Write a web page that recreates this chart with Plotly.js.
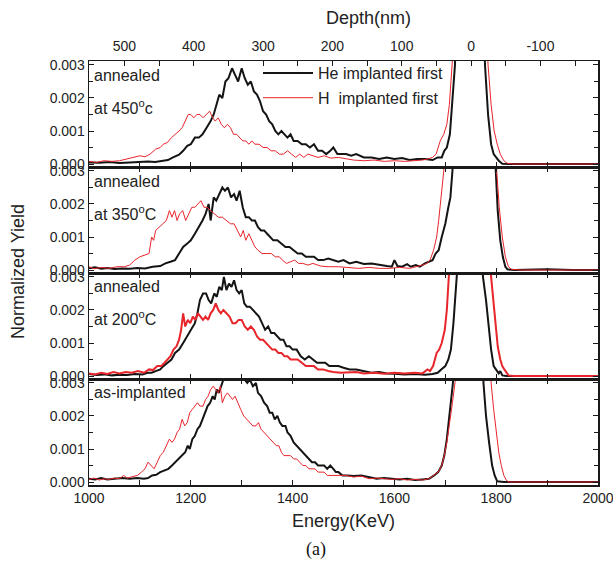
<!DOCTYPE html>
<html>
<head>
<meta charset="utf-8">
<script src="https://cdn.plot.ly/plotly-3.0.1.min.js"></script>
<style>html,body{margin:0;padding:0;background:#fff;}#chart{width:613px;height:569px;}</style>
</head>
<body>
<div id="chart"></div>
<script>
// ---------- data ----------
// annealed at 450 C
const E_450_He = [1000,1020,1040,1060,1080,1100,1116,1130,1145,1155,1165,1177,1185,1193,1200,1208,1216,1223,1231,1239,1245,1250,1256,1262,1268,1274,1281,1287,1293,1300,1306,1312,1318,1324,1330,1336,1342,1348,1354,1360,1366,1372,1378,1384,1390,1396,1402,1410,1418,1426,1434,1442,1450,1458,1466,1474,1480,1488,1496,1505,1515,1525,1540,1555,1570,1585,1600,1615,1630,1645,1660,1675,1685,1693,1698,1703,1709,1714,1719,1725,1740,1760,1772,1778,1784,1790,1795,1800,1805,1812,1830,1900,2000];
const Y_450_He = [0.00005,0.00004,0.00006,0.00003,0.00005,0.00006,0.00008,0.00006,0.0001,0.00012,0.0002,0.00028,0.0004,0.00055,0.0006,0.0008,0.0008,0.0009,0.0011,0.0013,0.0015,0.0018,0.0021,0.002,0.0025,0.0026,0.0029,0.0027,0.0025,0.0029,0.0026,0.0024,0.0025,0.0022,0.0021,0.0019,0.0016,0.0015,0.0013,0.0012,0.0010,0.0009,0.001,0.0009,0.0008,0.0009,0.0007,0.0007,0.0006,0.0006,0.0005,0.0006,0.0004,0.0004,0.0003,0.0004,0.0005,0.0003,0.0003,0.0003,0.00025,0.0003,0.0002,0.0002,0.00015,0.0002,0.00015,0.00018,0.00012,0.00015,0.00015,0.00012,0.0002,0.0002,0.0004,0.0005,0.0009,0.002,0.003,0.006,0.009,0.009,0.006,0.003,0.0015,0.0006,0.0003,0.0002,0.0001,0.00001,0,0,0];
const E_450_H = [1000,1015,1030,1045,1060,1075,1090,1100,1110,1120,1131,1140,1146,1154,1162,1170,1177,1183,1189,1195,1200,1206,1212,1218,1224,1231,1237,1243,1248,1254,1260,1266,1272,1278,1284,1290,1296,1302,1308,1314,1320,1326,1334,1342,1350,1358,1366,1374,1382,1390,1398,1406,1414,1422,1430,1440,1450,1462,1475,1490,1505,1520,1540,1560,1580,1600,1620,1640,1655,1665,1675,1682,1690,1697,1703,1708,1712,1718,1740,1770,1780,1784,1790,1796,1802,1808,1815,1822,1835,1900,2000];
const Y_450_H = [0.00008,0.00005,0.0001,0.00008,0.0001,0.00015,0.0002,0.00025,0.00022,0.0003,0.00045,0.0005,0.0006,0.00065,0.0008,0.0009,0.001,0.0011,0.0013,0.0015,0.0015,0.0014,0.0015,0.0015,0.0014,0.0015,0.0016,0.0014,0.0013,0.0014,0.0012,0.0011,0.0012,0.0011,0.0009,0.0009,0.0008,0.0007,0.0007,0.0006,0.0007,0.0006,0.0006,0.0005,0.0005,0.0004,0.0004,0.0003,0.0003,0.0004,0.0003,0.0002,0.0003,0.0002,0.0003,0.00025,0.0002,0.00025,0.00018,0.0002,0.00015,0.00012,0.0001,0.00012,0.00008,0.0001,0.00008,0.0001,0.00012,0.00015,0.0002,0.0003,0.0007,0.0009,0.0012,0.0018,0.003,0.006,0.009,0.009,0.005,0.003,0.0018,0.001,0.0006,0.0003,0.0001,0.00002,0,0,0];
// annealed at 350 C
const E_350_He = [1000,1012,1024,1036,1050,1065,1080,1095,1110,1125,1140,1150,1160,1169,1177,1185,1193,1200,1208,1216,1223,1229,1235,1239,1245,1250,1256,1262,1267,1273,1279,1285,1290,1296,1302,1308,1314,1320,1326,1332,1338,1344,1350,1356,1362,1370,1378,1386,1394,1402,1410,1418,1426,1434,1442,1450,1460,1470,1480,1490,1500,1512,1525,1540,1555,1570,1585,1595,1600,1606,1615,1625,1632,1642,1650,1660,1668,1675,1681,1687,1693,1700,1706,1710,1714,1720,1740,1780,1795,1798,1803,1808,1813,1818,1822,1835,1900,1950,2000];
const Y_350_He = [0.00005,0.00008,0.00004,0.00006,0.00003,0.00005,0.00004,0.00006,0.00005,0.0001,0.00012,0.0002,0.00025,0.0003,0.0005,0.0007,0.0008,0.0009,0.0011,0.0013,0.0015,0.0017,0.002,0.0015,0.0022,0.0021,0.0023,0.0025,0.0024,0.0025,0.0022,0.0023,0.0021,0.0024,0.0019,0.0016,0.0016,0.0015,0.0015,0.0013,0.0012,0.0012,0.0011,0.001,0.0009,0.0009,0.0008,0.0007,0.0007,0.0006,0.0005,0.0005,0.0004,0.0004,0.0004,0.0003,0.0003,0.00035,0.0003,0.00025,0.0003,0.0002,0.00025,0.00018,0.0002,0.00015,0.00012,0.0001,0.0003,0.00012,0.0001,0.00018,0.0001,0.00015,0.0001,0.0002,0.00025,0.0003,0.0005,0.0006,0.001,0.0014,0.0019,0.0022,0.003,0.006,0.009,0.009,0.004,0.003,0.0018,0.0009,0.0004,0.0001,0.00002,0,0.00002,0,0];
const E_350_H = [1000,1010,1025,1040,1055,1070,1080,1090,1100,1110,1118,1123,1127,1131,1138,1146,1152,1158,1163,1168,1173,1178,1184,1190,1196,1202,1208,1214,1220,1226,1232,1239,1246,1254,1262,1270,1278,1285,1292,1298,1303,1308,1314,1320,1326,1332,1340,1350,1358,1366,1374,1380,1388,1396,1404,1412,1420,1430,1440,1455,1470,1490,1510,1530,1550,1570,1590,1610,1630,1645,1655,1664,1670,1677,1683,1687,1692,1697,1703,1720,1785,1797,1801,1806,1812,1818,1824,1830,1850,2000];
const Y_350_H = [0.0001,0.00004,0.00008,0.00005,0.0001,0.0001,0.00015,0.0003,0.0004,0.00045,0.0005,0.001,0.0009,0.0012,0.0013,0.0014,0.0015,0.0018,0.0016,0.0018,0.0015,0.0017,0.0018,0.0015,0.0017,0.0019,0.0019,0.002,0.0021,0.0019,0.0019,0.0018,0.0017,0.0016,0.0016,0.0015,0.0014,0.0014,0.0012,0.001,0.0012,0.0009,0.0011,0.0009,0.0007,0.0006,0.0005,0.0005,0.0005,0.0004,0.0004,0.0003,0.0002,0.00025,0.0003,0.0002,0.0002,0.00015,0.0002,0.00012,0.0001,0.0001,0.00008,0.00005,0.00008,0.00005,0.00005,0.00008,0.00005,0.0001,0.00015,0.0002,0.0003,0.0006,0.001,0.0015,0.0022,0.003,0.006,0.009,0.009,0.0045,0.003,0.0019,0.001,0.0004,0.0001,0.00002,0,0];
// annealed at 200 C
const E_200_He = [1000,1015,1030,1045,1060,1075,1090,1105,1115,1123,1131,1140,1146,1154,1162,1169,1177,1185,1193,1200,1208,1213,1218,1224,1230,1235,1240,1246,1251,1256,1261,1265,1270,1275,1280,1285,1290,1295,1300,1305,1310,1316,1322,1328,1334,1340,1346,1352,1358,1364,1370,1376,1382,1388,1394,1400,1408,1416,1424,1432,1440,1448,1456,1464,1472,1480,1490,1500,1512,1525,1540,1555,1570,1585,1600,1620,1640,1660,1675,1685,1692,1700,1706,1711,1716,1720,1723,1730,1750,1765,1770,1774,1780,1785,1790,1795,1800,1805,1808,1812,1820,2000];
const Y_200_He = [0.00006,0.00003,0.00005,0.00002,0.00004,0.00003,0.00006,0.00005,0.0001,0.0001,0.00015,0.0002,0.0003,0.0004,0.0005,0.0007,0.0008,0.001,0.0012,0.0014,0.0016,0.0019,0.0023,0.0025,0.0025,0.0023,0.0022,0.0025,0.0024,0.0027,0.0026,0.003,0.0026,0.0028,0.0027,0.0029,0.0026,0.0025,0.0026,0.0022,0.0021,0.0021,0.002,0.0019,0.0018,0.0016,0.0014,0.0015,0.0013,0.0013,0.0012,0.0011,0.0011,0.0009,0.0009,0.0008,0.0008,0.0006,0.0005,0.0006,0.0005,0.0004,0.0004,0.0004,0.0003,0.0003,0.0003,0.00025,0.0002,0.0002,0.00015,0.0001,0.00012,0.00008,0.00007,0.00005,0.00006,0.00004,0.00006,0.0001,0.0002,0.0003,0.0005,0.0008,0.0016,0.0025,0.003,0.006,0.009,0.007,0.0045,0.003,0.0023,0.0015,0.0008,0.0003,0.0002,0.00008,0.00015,0.00002,0,0];
const E_200_H = [1000,1012,1024,1036,1048,1060,1072,1084,1096,1108,1118,1126,1134,1142,1148,1154,1160,1166,1172,1177,1181,1185,1189,1194,1199,1204,1209,1214,1219,1224,1229,1234,1239,1244,1249,1254,1259,1264,1270,1276,1282,1288,1294,1300,1306,1312,1318,1324,1330,1336,1342,1348,1354,1360,1366,1372,1378,1384,1390,1396,1402,1410,1418,1426,1434,1442,1450,1460,1470,1480,1495,1510,1525,1540,1560,1580,1600,1620,1640,1655,1665,1670,1676,1683,1688,1693,1699,1703,1707,1712,1730,1780,1786,1790,1795,1798,1803,1808,1812,1816,1820,1824,1835,2000];
const Y_200_H = [0.00008,0.00005,0.0001,0.00006,0.00012,0.00008,0.00012,0.0001,0.00015,0.0001,0.0002,0.00018,0.0003,0.0003,0.0004,0.0005,0.0006,0.0008,0.0009,0.0011,0.0014,0.0019,0.0015,0.0017,0.0016,0.0018,0.0017,0.0019,0.0018,0.0017,0.0018,0.0017,0.0019,0.002,0.0022,0.002,0.0019,0.002,0.0019,0.0018,0.0016,0.0016,0.0017,0.0017,0.0015,0.0014,0.0015,0.0014,0.0012,0.0011,0.0011,0.001,0.0009,0.0008,0.0008,0.0007,0.0007,0.0006,0.0006,0.0005,0.0005,0.0005,0.0004,0.0003,0.0003,0.0003,0.0002,0.0002,0.00015,0.00012,0.0001,0.0001,0.00012,0.00008,0.0001,0.00007,0.0001,0.00008,0.0001,0.00008,0.0002,0.00015,0.0003,0.0007,0.0008,0.001,0.0014,0.002,0.003,0.006,0.009,0.009,0.0045,0.003,0.0022,0.0015,0.0009,0.0005,0.0003,0.0002,0.0001,0.00002,0,0];
// as-implanted
const E_as_He = [1000,1012,1024,1036,1050,1065,1080,1095,1108,1116,1124,1132,1140,1148,1156,1163,1170,1177,1183,1189,1194,1198,1203,1208,1213,1218,1223,1228,1233,1238,1243,1247,1251,1255,1259,1264,1270,1280,1290,1300,1306,1311,1316,1322,1328,1332,1338,1344,1350,1355,1360,1365,1370,1375,1380,1386,1390,1396,1402,1408,1414,1420,1426,1432,1438,1444,1450,1456,1462,1468,1474,1480,1485,1490,1498,1508,1520,1535,1550,1565,1580,1595,1610,1625,1640,1655,1668,1678,1686,1693,1698,1703,1708,1712,1715,1720,1745,1765,1772,1775,1780,1786,1792,1797,1802,1815,2000];
const Y_as_He = [0.0001,0.00008,0.00012,0.00008,0.0001,0.00012,0.0001,0.00012,0.0001,0.00012,0.0002,0.00022,0.0003,0.00035,0.0004,0.0005,0.0006,0.0007,0.0008,0.0009,0.0011,0.001,0.0013,0.0014,0.0016,0.0017,0.0019,0.0021,0.0023,0.0024,0.0026,0.0025,0.0028,0.0027,0.0029,0.0031,0.0033,0.0034,0.0034,0.0033,0.0031,0.003,0.0031,0.0029,0.003,0.0027,0.0026,0.0024,0.0023,0.0021,0.0021,0.0019,0.002,0.0018,0.0017,0.0017,0.0015,0.0014,0.0012,0.0011,0.001,0.0009,0.0008,0.0007,0.0006,0.0006,0.0005,0.0005,0.0005,0.0004,0.0005,0.0004,0.0003,0.0003,0.0002,0.0002,0.00018,0.0002,0.00015,0.0001,0.00012,0.0001,0.00008,0.0001,0.00006,0.00008,0.0001,0.0002,0.0003,0.0005,0.0008,0.0013,0.002,0.0026,0.003,0.006,0.009,0.008,0.005,0.003,0.002,0.0012,0.0005,0.0002,0.00002,0,0];
const E_as_H = [1000,1010,1020,1030,1040,1050,1060,1068,1075,1085,1095,1103,1110,1116,1122,1128,1134,1140,1146,1152,1158,1163,1168,1173,1178,1183,1188,1193,1198,1203,1208,1213,1218,1224,1229,1234,1239,1244,1249,1254,1258,1262,1267,1272,1277,1282,1287,1292,1298,1304,1310,1316,1322,1328,1333,1338,1344,1350,1356,1362,1368,1373,1378,1383,1390,1396,1402,1408,1414,1420,1426,1432,1438,1444,1450,1456,1462,1468,1475,1485,1495,1505,1520,1535,1550,1565,1580,1595,1610,1625,1640,1655,1668,1678,1686,1693,1698,1703,1709,1714,1719,1725,1750,1780,1786,1790,1795,1800,1805,1810,1815,1820,1825,2000];
const Y_as_H = [0.00008,0.00012,0.00006,0.0001,0.00008,0.00012,0.0001,0.0002,0.00012,0.00015,0.0002,0.0003,0.0004,0.0006,0.0005,0.0004,0.0006,0.0008,0.0009,0.0011,0.0013,0.0012,0.0013,0.0015,0.0016,0.0019,0.0017,0.0018,0.0021,0.0022,0.0023,0.0024,0.0023,0.0023,0.0025,0.0026,0.0028,0.0029,0.0028,0.0027,0.0029,0.0024,0.0026,0.0027,0.0026,0.0025,0.0026,0.0024,0.0022,0.002,0.0019,0.0018,0.0017,0.0017,0.0018,0.0016,0.0015,0.0014,0.0013,0.0012,0.0011,0.0011,0.0009,0.0008,0.0008,0.0008,0.0007,0.0007,0.0006,0.0005,0.0005,0.0004,0.0004,0.0004,0.0003,0.0003,0.0003,0.0002,0.0002,0.0002,0.00018,0.0002,0.00015,0.00018,0.0001,0.00012,0.0001,0.00008,0.0001,0.00006,0.00008,0.00006,0.0001,0.0002,0.0003,0.0005,0.0008,0.0012,0.0018,0.0024,0.003,0.006,0.009,0.009,0.005,0.003,0.0022,0.0015,0.0009,0.0005,0.0002,0.00005,0,0];

const panelLabels = ["annealed", "at 450<sup>o</sup>c", "annealed", "at 350<sup>o</sup>C", "annealed", "at 200<sup>o</sup>C", "as-implanted"];
const seriesNames = ["He implanted first", "H  implanted first"];
const energyTicks = [1000, 1200, 1400, 1600, 1800, 2000];
const depthTicks = [500, 400, 300, 200, 100, 0, -100];
const depthTickText = ["500", "400", "300", "200", "100", "0", "-100"];

// ---------- styling ----------
const BLACK = '#141414';
const RED = '#e8252b';
const FONT = 'Liberation Sans, Arial, Helvetica, sans-serif';
const TXT = '#222';

function tr(x, y, ax, color, width, name, show) {
  return {x: x, y: y, xaxis: ax[0], yaxis: ax[1], type: 'scatter', mode: 'lines',
    line: {color: color, width: width}, name: name, showlegend: show,
    legendgroup: name, hoverinfo: 'skip'};
}

const data = [
  tr(E_450_He, Y_450_He, ['x4','y4'], BLACK, 2, seriesNames[0], true),
  tr(E_450_H,  Y_450_H,  ['x4','y4'], RED, 1, seriesNames[1], true),
  tr(E_350_He, Y_350_He, ['x3','y3'], BLACK, 2, seriesNames[0], false),
  tr(E_350_H,  Y_350_H,  ['x3','y3'], RED, 1, seriesNames[1], false),
  tr(E_200_He, Y_200_He, ['x2','y2'], BLACK, 2, seriesNames[0], false),
  tr(E_200_H,  Y_200_H,  ['x2','y2'], RED, 2, seriesNames[1], false),
  tr(E_as_He,  Y_as_He,  ['x','y'],   BLACK, 2, seriesNames[0], false),
  tr(E_as_H,   Y_as_H,   ['x','y'],   RED, 1, seriesNames[1], false),
  {x: [], y: [], xaxis: 'x5', yaxis: 'y4', type: 'scatter', mode: 'lines', showlegend: false, hoverinfo: 'skip'}
];

const yRange = [-0.00009, 0.00312];
function xAx(anchor, labels, mirror) {
  return {anchor: anchor, range: [1000, 2000], showgrid: false, zeroline: false,
    showline: true, linecolor: '#1a1a1a', linewidth: 1.5, mirror: mirror,
    ticks: 'inside', ticklen: 5, tickwidth: 1, tickcolor: '#1a1a1a',
    tickvals: energyTicks, showticklabels: labels, ticklabeloverflow: 'allow',
    minor: {dtick: 100, ticks: 'inside', ticklen: 5, tickcolor: '#1a1a1a', showgrid: false},
    tickfont: {family: FONT, size: 14, color: TXT}, fixedrange: true};
}
function yAx(anchor, dom) {
  return {anchor: anchor, domain: dom, range: yRange, showgrid: false, zeroline: false,
    showline: true, linecolor: '#1a1a1a', linewidth: 1.5, mirror: 'ticks',
    ticks: 'inside', ticklen: 5, tickwidth: 1, tickcolor: '#1a1a1a',
    tickvals: [0, 0.001, 0.002, 0.003], tickformat: '.3f', ticklabeloverflow: 'allow',
    minor: {tickvals: [0.0005, 0.0015, 0.0025], ticks: 'inside', ticklen: 4, tickcolor: '#1a1a1a', showgrid: false},
    tickfont: {family: FONT, size: 14, color: TXT}, fixedrange: true};
}

const plotTop = 61, plotBot = 485, plotH = plotBot - plotTop, plotL = 89, plotW = 509;
const py = (px) => (plotBot - px) / plotH;
const pxx = (px) => (px - plotL) / plotW;

const ann = [];
const labelPos = [[0,75],[1,107],[2,181],[3,213],[4,286],[5,318],[6,392]];
labelPos.forEach(([i, y]) => ann.push({text: panelLabels[i], xref: 'paper', yref: 'paper',
  x: pxx(92), y: py(y), xanchor: 'left', yanchor: 'middle', showarrow: false,
  font: {family: FONT, size: 16, color: TXT}}));
ann.push({text: 'Normalized Yield', xref: 'paper', yref: 'paper', x: pxx(18), y: py(272),
  xanchor: 'center', yanchor: 'middle', textangle: -90, showarrow: false,
  font: {family: FONT, size: 18, color: TXT}});
ann.push({text: 'Energy(KeV)', xref: 'paper', yref: 'paper', x: pxx(343), y: py(521),
  xanchor: 'center', yanchor: 'middle', showarrow: false, font: {family: FONT, size: 18, color: TXT}});
ann.push({text: 'Depth(nm)', xref: 'paper', yref: 'paper', x: pxx(368), y: py(18),
  xanchor: 'center', yanchor: 'middle', showarrow: false, font: {family: FONT, size: 18, color: TXT}});
ann.push({text: '(a)', xref: 'paper', yref: 'paper', x: pxx(316), y: py(549),
  xanchor: 'center', yanchor: 'middle', showarrow: false, font: {family: 'Liberation Serif, Times New Roman, serif', size: 18, color: '#111'}});

const layout = {
  width: 613, height: 569,
  margin: {l: plotL, r: 613 - plotL - plotW, t: plotTop, b: 569 - plotBot, pad: 0},
  paper_bgcolor: '#fff', plot_bgcolor: '#fff',
  showlegend: true,
  legend: {x: pxx(258), y: 1 + 5 / plotH, xanchor: 'left', yanchor: 'top', bgcolor: 'rgba(0,0,0,0)',
    borderwidth: 0, itemwidth: 50, font: {family: FONT, size: 16, color: TXT}, traceorder: 'grouped', tracegroupgap: 1},
  xaxis: xAx('y', true, 'ticks'),
  xaxis2: Object.assign(xAx('y2', false, 'ticks'), {matches: 'x'}),
  xaxis3: Object.assign(xAx('y3', false, 'ticks'), {matches: 'x'}),
  xaxis4: Object.assign(xAx('y4', false, true), {matches: 'x'}),
  xaxis5: {overlaying: 'x4', anchor: 'y4', side: 'top', range: [551, -183], showgrid: false, zeroline: false,
    showline: false, ticks: 'inside', ticklen: 5, tickwidth: 1, tickcolor: '#1a1a1a',
    tickvals: depthTicks, ticktext: depthTickText, ticklabelstandoff: 6, ticklabeloverflow: 'allow',
    minor: {dtick: 50, ticks: 'inside', ticklen: 5, tickcolor: '#1a1a1a', showgrid: false},
    tickfont: {family: FONT, size: 14, color: TXT}, fixedrange: true},
  yaxis: yAx('x', [0, 0.25]),
  yaxis2: yAx('x2', [0.25, 0.5]),
  yaxis3: yAx('x3', [0.5, 0.75]),
  yaxis4: yAx('x4', [0.75, 1]),
  annotations: ann
};

Plotly.newPlot('chart', data, layout, {displayModeBar: false, staticPlot: true});
</script>
</body>
</html>
